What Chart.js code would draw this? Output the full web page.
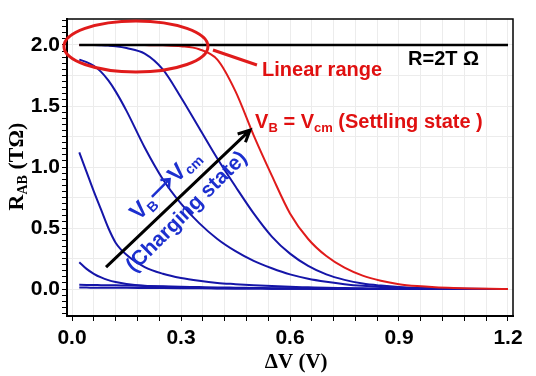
<!DOCTYPE html>
<html>
<head>
<meta charset="utf-8">
<script src="https://cdn.jsdelivr.net/npm/chart.js@4/dist/chart.umd.min.js"></script>
<style>
  html, body { margin: 0; padding: 0; background: #fff; }
  #wrap { width: 536px; height: 376px; }
</style>
</head>
<body>
<div id="wrap"><canvas id="c"></canvas></div>
<script>
// ΔV (V) sample points
const dv = [0.02,0.04,0.06,0.08,0.10,0.12,0.15,0.20,0.25,0.30,0.35,0.40,0.45,0.50,0.55,0.60,0.65,0.70,0.75,0.80,0.85,0.90,0.95,1.00,1.05,1.10,1.15,1.20];

// R_AB (TΩ)
const rRef    = dv.map(() => 2.0);
const rSettle = [2.0,2.0,2.0,2.0,2.0,2.0,2.0,1.999,1.997,1.99,1.965,1.88,1.62,1.26,0.93,0.62,0.41,0.27,0.175,0.11,0.068,0.04,0.024,0.014,0.008,0.004,0.002,0.001];
const rBlue1  = [2.0,2.0,2.0,1.998,1.995,1.99,1.975,1.93,1.80,1.57,1.32,1.07,0.84,0.62,0.43,0.29,0.19,0.12,0.075,0.045,0.028,0.016,0.009,0.005,0.003,0.002,0.001,0];
const rBlue2  = [1.88,1.86,1.83,1.78,1.71,1.62,1.46,1.16,0.90,0.70,0.54,0.41,0.31,0.23,0.17,0.12,0.085,0.06,0.04,0.026,0.017,0.011,0.007,0.004,0.002,0.001,0,0];
const rBlue3  = [1.12,0.96,0.80,0.65,0.50,0.38,0.28,0.18,0.125,0.09,0.067,0.05,0.04,0.031,0.024,0.018,0.014,0.010,0.008,0.006,0.004,0.003,0.002,0.0015,0.001,0.0005,0,0];
const rBlue4  = [0.22,0.165,0.125,0.095,0.073,0.058,0.042,0.026,0.018,0.012,0.009,0.007,0.005,0.004,0.003,0.002,0.0015,0.001,0.001,0.0005,0,0,0,0,0,0,0,0];
const rBlue5  = [0.035,0.034,0.033,0.032,0.031,0.030,0.028,0.025,0.022,0.019,0.016,0.013,0.011,0.009,0.007,0.006,0.005,0.004,0.003,0.002,0.002,0.001,0.001,0,0,0,0,0];
const rBlue6  = [0.012,0.012,0.011,0.011,0.011,0.010,0.010,0.009,0.008,0.007,0.006,0.005,0.004,0.004,0.003,0.003,0.002,0.002,0.002,0.001,0.001,0.001,0.001,0,0,0,0,0];

// ticks
const xTicks = [0,0.06,0.12,0.18,0.24,0.30,0.36,0.42,0.48,0.54,0.60,0.66,0.72,0.78,0.84,0.90,0.96,1.02,1.08,1.14,1.20];
const xLabels = ['0.0','0.3','0.6','0.9','1.2'];
const yTicks = [];
for (let i = -4; i <= 44; i++) yTicks.push(Math.round(i * 5) / 100);
const yLabels = ['0.0','0.5','1.0','1.5','2.0'];
const yGrid = [0,0.25,0.5,0.75,1.0,1.25,1.5,1.75,2.0];

const BLUE = '#1515a8';
const RED = '#e01b1b';
const TXT_RED = '#e01010';
const TXT_BLUE = '#1c2fcf';
const SANS = '"Liberation Sans", Arial, sans-serif';
const SERIF = '"Liberation Serif", "Times New Roman", serif';

const pts = arr => arr.map((v, i) => ({ x: dv[i], y: v }));
const line = (arr, color, w) => ({
  data: pts(arr), borderColor: color, borderWidth: w,
  pointRadius: 0, cubicInterpolationMode: 'monotone', fill: false
});

const near = (list, v) => list.some(l => Math.abs(l - v) < 1e-6);

// parts: {t: text, f: font, dy: offset} or {arrow: length}
function rich(ctx, parts, x, y, align) {
  const wid = p => { if (p.arrow) return p.arrow; ctx.font = p.f; return ctx.measureText(p.t).width; };
  const w = parts.reduce((s, p) => s + wid(p), 0);
  let cx = align === 'center' ? x - w / 2 : x;
  parts.forEach(p => {
    const pw = wid(p);
    if (p.arrow) {
      const ay = y - 8;
      ctx.save();
      ctx.strokeStyle = ctx.fillStyle;
      ctx.lineWidth = 2.5;
      ctx.beginPath();
      ctx.moveTo(cx + 1, ay);
      ctx.lineTo(cx + pw - 2, ay);
      ctx.moveTo(cx + pw - 9, ay - 6);
      ctx.lineTo(cx + pw - 2, ay);
      ctx.lineTo(cx + pw - 9, ay + 6);
      ctx.stroke();
      ctx.restore();
    } else {
      ctx.font = p.f;
      ctx.fillText(p.t, cx, y + (p.dy || 0));
    }
    cx += pw;
  });
}

const annotations = {
  id: 'annotations',
  afterDraw(chart) {
    const { ctx, chartArea: a, scales: { x, y } } = chart;
    const px = v => x.getPixelForValue(v);
    const py = v => y.getPixelForValue(v);
    ctx.save();

    // frame
    ctx.strokeStyle = '#000';
    ctx.lineWidth = 1.5;
    ctx.strokeRect(a.left, a.top, a.right - a.left, a.bottom - a.top);

    // linear range ellipse + pointer
    ctx.strokeStyle = RED;
    ctx.lineWidth = 3;
    ctx.beginPath();
    ctx.ellipse(px(0.176), py(1.988), 72, 25.5, 0, 0, Math.PI * 2);
    ctx.stroke();
    ctx.beginPath();
    ctx.moveTo(px(0.388), py(1.959));
    ctx.lineTo(px(0.509), py(1.836));
    ctx.stroke();

    ctx.textBaseline = 'alphabetic';
    ctx.fillStyle = TXT_RED;
    rich(ctx, [{ t: 'Linear range', f: 'bold 20px ' + SANS }], px(0.523), py(1.746));
    rich(ctx, [
      { t: 'V', f: 'bold 20px ' + SANS },
      { t: 'B', f: 'bold 13px ' + SANS, dy: 4 },
      { t: ' = V', f: 'bold 20px ' + SANS },
      { t: 'cm', f: 'bold 13px ' + SANS, dy: 4 },
      { t: ' (Settling state )', f: 'bold 20px ' + SANS }
    ], px(0.504), py(1.32));

    ctx.fillStyle = '#000';
    rich(ctx, [{ t: 'R=2T \u03A9', f: 'bold 20px ' + SANS }], px(0.925), py(1.836));

    // black arrow
    const x0 = px(0.0936), y0 = py(0.18), x1 = px(0.49), y1 = py(1.303);
    const ang = Math.atan2(y1 - y0, x1 - x0);
    ctx.strokeStyle = '#000';
    ctx.lineWidth = 3;
    ctx.beginPath();
    ctx.moveTo(x0, y0);
    ctx.lineTo(x1, y1);
    ctx.moveTo(x1 - 13 * Math.cos(ang - 0.45), y1 - 13 * Math.sin(ang - 0.45));
    ctx.lineTo(x1, y1);
    ctx.lineTo(x1 - 13 * Math.cos(ang + 0.45), y1 - 13 * Math.sin(ang + 0.45));
    ctx.stroke();

    // blue rotated labels
    ctx.fillStyle = TXT_BLUE;
    ctx.save();
    ctx.translate(px(0.255), py(0.86));
    ctx.rotate(-Math.PI / 4);
    rich(ctx, [
      { t: 'V', f: 'bold 23px ' + SANS },
      { t: 'B', f: 'bold 14px ' + SANS, dy: 4 },
      { arrow: 28 },
      { t: 'V', f: 'bold 23px ' + SANS },
      { t: 'cm', f: 'bold 14px ' + SANS, dy: 4 }
    ], 0, 8, 'center');
    ctx.restore();
    ctx.save();
    ctx.translate(px(0.312), py(0.645));
    ctx.rotate(-Math.PI / 4);
    rich(ctx, [{ t: '(Charging state)', f: 'bold 21px ' + SANS }], 0, 8, 'center');
    ctx.restore();

    // axis titles
    ctx.fillStyle = '#000';
    rich(ctx, [{ t: '\u0394V (V)', f: 'bold 21px ' + SERIF }], px(0.617), 368, 'center');
    ctx.save();
    ctx.translate(23, (a.top + a.bottom) / 2 - 1);
    ctx.rotate(-Math.PI / 2);
    rich(ctx, [
      { t: 'R', f: 'bold 22px ' + SERIF },
      { t: 'AB', f: 'bold 14px ' + SERIF, dy: 4 },
      { t: ' (T\u03A9)', f: 'bold 22px ' + SERIF }
    ], 0, 0, 'center');
    ctx.restore();

    ctx.restore();
  }
};

new Chart(document.getElementById('c'), {
  type: 'line',
  data: {
    datasets: [
      line(rRef, '#000', 2.5),
      line(rSettle, RED, 2),
      line(rBlue1, BLUE, 2),
      line(rBlue2, BLUE, 2),
      line(rBlue3, BLUE, 2),
      line(rBlue4, BLUE, 2),
      line(rBlue5, BLUE, 2),
      line(rBlue6, BLUE, 2)
    ]
  },
  options: {
    responsive: true,
    maintainAspectRatio: false,
    animation: false,
    devicePixelRatio: 1,
    layout: { padding: { top: 19, right: 23, left: 0, bottom: 0 } },
    plugins: { legend: { display: false }, tooltip: { enabled: false } },
    scales: {
      x: {
        type: 'linear',
        min: -0.0138,
        max: 1.2138,
        afterBuildTicks: s => { s.ticks = xTicks.map(v => ({ value: v })); },
        afterFit: s => { s.height = 60; },
        ticks: {
          autoSkip: false, maxRotation: 0, padding: 5, color: '#000',
          font: { family: SANS, size: 21, weight: 'bold' },
          callback: v => xLabels.find(l => Math.abs(parseFloat(l) - v) < 1e-6) || ''
        },
        grid: { color: '#ececec', tickColor: '#000', tickLength: 5 },
        border: { color: '#000', width: 2 }
      },
      y: {
        min: -0.221,
        max: 2.213,
        afterBuildTicks: s => { s.ticks = yTicks.map(v => ({ value: v })); },
        afterFit: s => { s.width = 67; },
        ticks: {
          autoSkip: false, padding: 2, color: '#000',
          font: { family: SANS, size: 21, weight: 'bold' },
          callback: v => yLabels.find(l => Math.abs(parseFloat(l) - v) < 1e-6) || ''
        },
        grid: {
          color: c => near(yGrid, c.tick ? c.tick.value : NaN) ? '#ececec' : 'rgba(0,0,0,0)',
          tickColor: '#000',
          tickLength: 5
        },
        border: { color: '#000', width: 2 }
      }
    }
  },
  plugins: [annotations]
});
</script>
</body>
</html>
